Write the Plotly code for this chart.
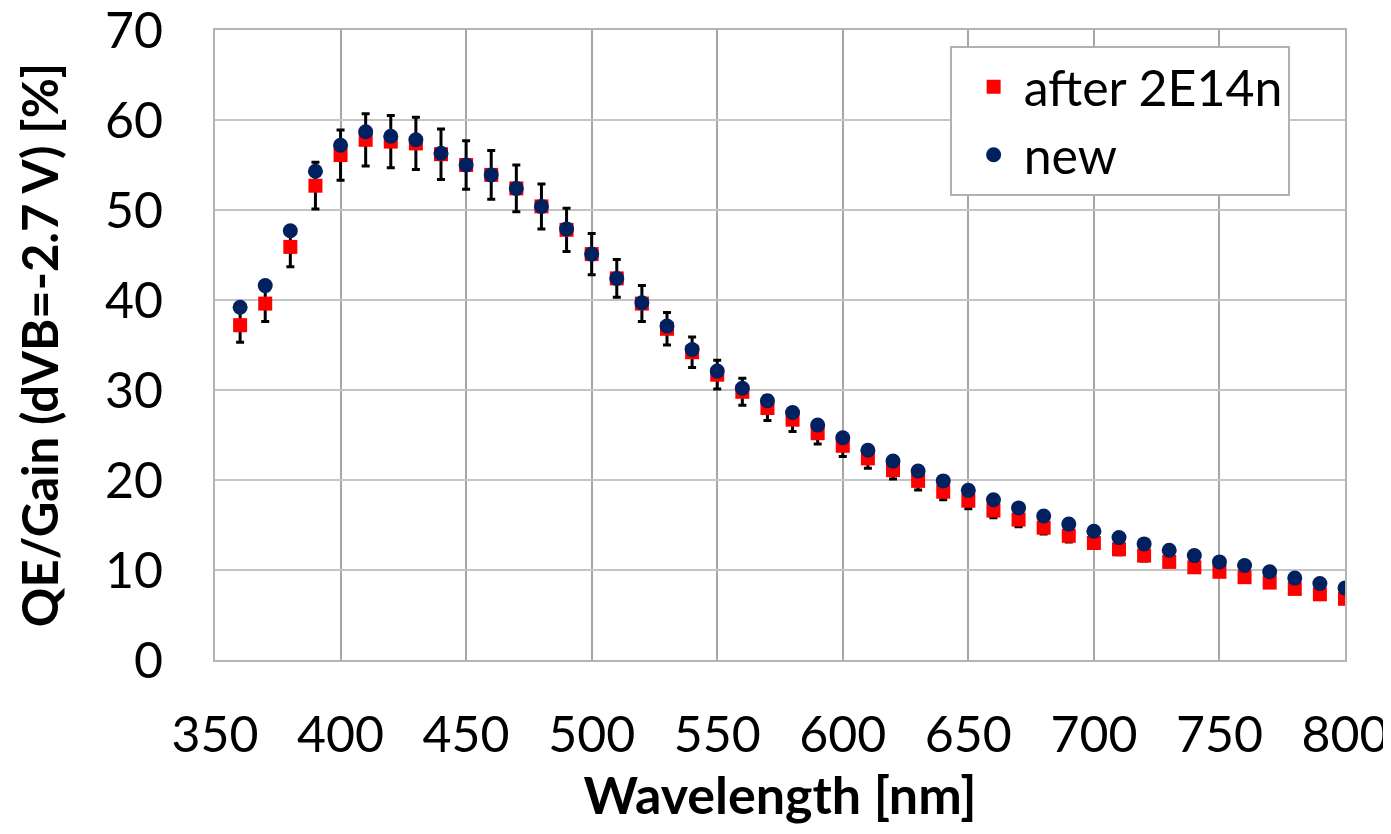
import plotly.graph_objects as go

# wavelength grid [nm]
wavelength = [360, 370, 380, 390, 400, 410, 420, 430, 440, 450,
              460, 470, 480, 490, 500, 510, 520, 530, 540, 550,
              560, 570, 580, 590, 600, 610, 620, 630, 640, 650,
              660, 670, 680, 690, 700, 710, 720, 730, 740, 750,
              760, 770, 780, 790, 800]

# QE/Gain after irradiation (2E14 n) [%]
qe_irradiated = [37.2, 39.6, 45.9, 52.7, 56.1, 57.8, 57.6, 57.4, 56.2, 55.0,
                 53.9, 52.4, 50.4, 47.8, 45.1, 42.4, 39.6, 36.8, 34.2, 31.7,
                 29.8, 28.0, 26.7, 25.2, 23.8, 22.4, 21.1, 19.9, 18.7, 17.7,
                 16.6, 15.6, 14.7, 13.8, 13.0, 12.3, 11.6, 10.9, 10.3, 9.8,
                 9.2, 8.6, 7.9, 7.3, 6.8]

# error bars on the irradiated series [%]
qe_irradiated_err = [1.9, 2.0, 2.2, 2.6, 2.8, 2.9, 2.9, 2.9, 2.8, 2.7,
                     2.7, 2.6, 2.5, 2.4, 2.3, 2.1, 2.0, 1.8, 1.7, 1.6,
                     1.5, 1.4, 1.3, 1.2, 1.2, 1.1, 1.0, 1.0, 0.9, 0.9,
                     0.8, 0.8, 0.7, 0.7, 0.6, 0.6, 0.6, 0.5, 0.5, 0.5,
                     0.5, 0.4, 0.4, 0.4, 0.3]

# QE/Gain of the new device [%]
qe_new = [39.2, 41.6, 47.7, 54.3, 57.2, 58.7, 58.2, 57.8, 56.3, 55.0,
          53.9, 52.4, 50.4, 47.9, 45.1, 42.4, 39.7, 37.1, 34.5, 32.1,
          30.2, 28.8, 27.5, 26.1, 24.7, 23.3, 22.1, 21.0, 19.9, 18.85,
          17.8, 16.9, 16.0, 15.1, 14.3, 13.6, 12.9, 12.2, 11.6, 10.9,
          10.5, 9.8, 9.1, 8.5, 8.0]

x_ticks = [350, 400, 450, 500, 550, 600, 650, 700, 750, 800]
y_ticks = [0, 10, 20, 30, 40, 50, 60, 70]

FONT = "Lato"

fig = go.Figure()

fig.add_trace(go.Scatter(
    x=wavelength, y=qe_irradiated, mode="markers", name="after 2E14n",
    marker=dict(symbol="square", size=14, color="#ff0000"),
    error_y=dict(type="data", array=qe_irradiated_err, visible=True,
                 color="black", thickness=3, width=4),
))

fig.add_trace(go.Scatter(
    x=wavelength, y=qe_new, mode="markers", name="new",
    marker=dict(symbol="circle", size=15, color="#002060"),
))

# the page body adds an 8 px offset, so the figure is 8 px smaller
fig.update_layout(
    width=1383, height=826,
    margin=dict(l=207, r=46, t=22, b=174),
    paper_bgcolor="white", plot_bgcolor="white",
    font=dict(family=FONT, size=50, color="black"),
    showlegend=True,
    legend=dict(
        x=0.951, y=0.975, xanchor="right", yanchor="top",
        bgcolor="white", bordercolor="#b0b0b0", borderwidth=2,
        font=dict(family=FONT, size=50, color="black"),
        indentation=12, itemwidth=50, tracegroupgap=0,
    ),
)

fig.update_xaxes(
    range=[350, 800], tickvals=x_ticks, ticks="",
    showgrid=True, gridcolor="#a6a6a6", gridwidth=1.5,
    showline=True, linecolor="#b4b4b4", linewidth=2, mirror=True,
    zeroline=False, ticklabelstandoff=30, automargin=False,
    ticklabeloverflow="allow",
    title=dict(text="<b>Wavelength [nm]</b>", standoff=0,
               font=dict(family=FONT, size=52)),
)

fig.update_yaxes(
    range=[0, 70], tickvals=y_ticks, ticks="",
    showgrid=True, gridcolor="#c4c4c4", gridwidth=2,
    showline=True, linecolor="#b4b4b4", linewidth=2, mirror=True,
    zeroline=False, ticklabelstandoff=40, automargin=False,
    ticklabeloverflow="allow",
    title=dict(text="<b>QE/Gain (dVB=-2.7 V) [%]</b>", standoff=31,
               font=dict(family=FONT, size=49)),
)

fig.write_html("out.html")
